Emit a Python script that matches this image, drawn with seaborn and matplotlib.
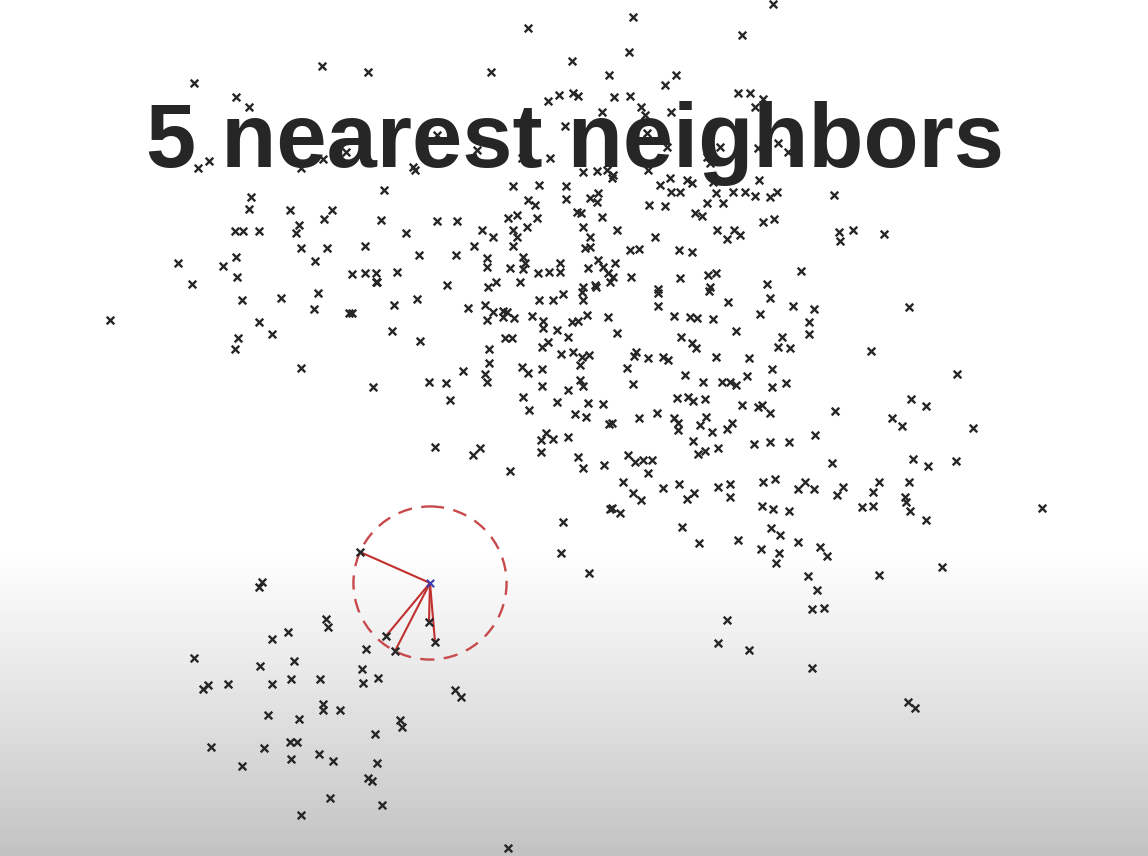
import matplotlib
matplotlib.use('Agg')
import matplotlib.pyplot as plt
import numpy as np
import pandas as pd
import seaborn as sns
from matplotlib.patches import Circle

# points, in pixel units (x right, y down)
upper_x = [322, 194, 236, 249, 198, 209, 251, 249, 290, 299, 296, 301, 324, 332, 235, 243, 259, 315, 327, 352,
           236, 223, 178, 237, 192, 301, 346, 323, 242, 281, 318, 314, 349, 110, 259, 272, 238, 235, 301,
           528, 572, 368, 491, 609, 614, 548, 559, 573, 578, 602, 565, 437, 477, 522, 550, 413, 415, 583, 597,
           607, 612, 384, 513, 539, 566, 566, 528, 535, 590, 598, 597, 577, 581, 602, 617, 381, 437, 457, 406,
           482, 493, 508, 517, 527, 537, 513, 517, 513, 583, 590, 585, 590, 365, 474, 419, 456, 487, 487, 523,
           525, 523, 510, 538, 549, 560, 560, 588, 598, 603, 608, 613, 610, 365, 376, 376, 397, 447, 496, 488,
           520, 583, 595,
           773, 633, 742, 629, 676, 665, 630, 738, 750, 763, 755, 641, 645, 671, 647, 667, 720, 758, 778, 788,
           707, 710, 648, 613, 670, 660, 687, 692, 671, 680, 713, 716, 733, 745, 755, 759, 770, 777, 649, 665,
           707, 723, 695, 702, 834, 763, 774, 655, 717, 727, 734, 740, 630, 639, 679, 692, 839, 853, 840, 615,
           631, 680, 708, 716, 767, 801, 710, 658,
           884, 909, 871, 957, 911, 926, 892, 902, 973, 913, 928, 956, 879, 873, 909, 905, 906, 910, 862, 873,
           926, 1042, 942,
           658, 658, 709, 728, 770, 793, 814, 809, 809, 760, 674, 690, 697, 713, 736, 617, 681, 692, 696, 782,
           778, 790, 636, 634, 648, 663, 668, 716, 749, 627, 772, 685, 747, 633, 703, 722, 730, 736, 772, 786,
           677, 688, 693, 705, 742, 758, 762, 770, 835, 612, 639, 657, 674, 678, 678, 700, 706, 712, 727, 732,
           693, 698, 705, 718, 754, 770, 789, 815, 832, 628, 635, 643, 652, 648, 623, 633, 641, 663, 679, 687,
           694, 718, 730, 730, 763, 775, 798, 805, 814, 837, 843, 612, 620, 762, 773, 789, 682, 699, 738, 771,
           780, 798, 761, 779, 776, 820, 827,
           377, 417, 394, 352, 468, 485, 493, 503, 487, 503, 514, 507, 532, 539, 553, 563, 582, 583, 596, 543,
           543, 557, 572, 578, 587, 608, 392, 420, 505, 512, 568, 542, 548, 489, 489, 561, 573, 582, 589, 580,
           463, 485, 487, 522, 528, 542, 429, 446, 373, 542, 568, 580, 583, 450, 523, 529, 557, 588, 575, 586,
           603, 609, 546, 541, 553, 568, 541, 435, 480, 473, 510, 578, 583, 604, 610, 563, 561,
           589, 808, 817, 812, 824, 879, 727, 718, 749, 812, 908, 915]
upper_y = [66, 83, 97, 107, 168, 161, 197, 209, 210, 225, 233, 248, 219, 210, 231, 231, 231, 261, 248, 274,
           257, 266, 263, 277, 284, 168, 152, 159, 300, 298, 293, 309, 313, 320, 322, 334, 338, 349, 368,
           28, 61, 72, 72, 75, 97, 101, 95, 93, 96, 112, 126, 135, 150, 158, 158, 167, 170, 172, 171,
           170, 178, 190, 186, 185, 186, 199, 200, 205, 198, 193, 202, 212, 213, 217, 230, 220, 221, 221, 233,
           230, 237, 218, 215, 227, 218, 230, 237, 246, 227, 237, 248, 247, 246, 246, 255, 255, 258, 267, 257,
           263, 269, 268, 273, 272, 263, 272, 268, 260, 267, 273, 277, 282, 273, 273, 282, 272, 285, 282, 287,
           282, 287, 285,
           4, 17, 35, 52, 75, 85, 96, 93, 93, 99, 107, 107, 115, 112, 133, 147, 147, 148, 143, 152,
           157, 163, 170, 175, 178, 185, 180, 183, 192, 192, 182, 193, 192, 192, 196, 180, 197, 192, 205, 206,
           203, 203, 213, 216, 195, 222, 219, 237, 230, 239, 230, 235, 250, 249, 250, 252, 232, 230, 241, 263,
           277, 278, 275, 273, 284, 271, 287, 289,
           234, 307, 351, 374, 399, 406, 418, 426, 428, 459, 466, 461, 482, 492, 482, 497, 502, 511, 507, 506,
           520, 508, 567,
           293, 306, 291, 302, 298, 306, 309, 322, 334, 314, 316, 317, 318, 319, 331, 333, 337, 343, 348, 337,
           347, 348, 352, 356, 358, 357, 360, 357, 358, 368, 369, 375, 376, 384, 382, 382, 382, 385, 387, 383,
           398, 397, 401, 399, 405, 407, 405, 413, 411, 423, 418, 413, 418, 423, 430, 425, 417, 432, 429, 423,
           441, 454, 451, 448, 444, 442, 442, 435, 463, 455, 462, 460, 460, 473, 482, 493, 500, 488, 484, 499,
           493, 487, 484, 497, 482, 479, 489, 482, 489, 495, 487, 508, 513, 506, 509, 511, 527, 543, 540, 528,
           535, 542, 549, 553, 563, 547, 556,
           282, 299, 305, 313, 308, 305, 312, 311, 320, 317, 318, 312, 316, 300, 300, 294, 292, 300, 287, 321,
           328, 330, 322, 321, 315, 317, 331, 341, 338, 338, 337, 347, 342, 349, 363, 354, 352, 357, 355, 365,
           371, 374, 382, 367, 373, 369, 382, 383, 387, 386, 390, 380, 386, 400, 397, 410, 402, 403, 414, 417,
           404, 424, 433, 440, 439, 437, 452, 447, 448, 455, 471, 457, 468, 465, 509, 522, 553,
           573, 576, 590, 609, 608, 575, 620, 643, 650, 668, 702, 708]

lower_x = [262, 259, 326, 328, 288, 272, 194, 260, 294, 366, 362, 363, 378, 208, 203, 228, 272, 291, 320, 323,
           323, 340, 268, 299, 375, 211, 264, 290, 297, 291, 319, 333, 242, 368, 372, 377, 330, 301, 455, 461,
           400, 402, 382, 508]
lower_y = [582, 587, 619, 627, 632, 639, 658, 666, 661, 649, 669, 683, 678, 685, 689, 684, 684, 679, 679, 704,
           710, 710, 715, 719, 734, 747, 748, 742, 742, 759, 754, 761, 766, 778, 781, 763, 798, 815, 690, 697,
           720, 727, 805, 848]

# query point and its 5 nearest neighbours
query_x = [430]
query_y = [583]
nbr_x = [360, 429, 435, 386, 395]
nbr_y = [552, 622, 642, 636, 651]

title = "5 nearest neighbors"

W, H = 1148, 856

pts = pd.DataFrame({
    'x': upper_x + lower_x + nbr_x,
    'y': upper_y + lower_y + nbr_y,
})

sns.set_theme(style="white")
plt.rcParams['font.family'] = ['Liberation Sans', 'DejaVu Sans']

fig = plt.figure(figsize=(W / 100, H / 100), dpi=100)
ax = fig.add_axes([0, 0, 1, 1])

# slide background: white, fading to grey at the bottom
rows = np.arange(H)
shade = 1 - 0.24 * np.clip((rows - 545) / (H - 545), 0, 1) ** 1.1
ax.imshow(np.repeat(shade[:, None], 2, axis=1), cmap='gray', vmin=0, vmax=1,
          extent=[0, W, H, 0], aspect='auto', zorder=0)

sns.scatterplot(data=pts, x='x', y='y', marker='x', s=30, linewidth=1.7,
                color='#262626', ax=ax, zorder=3, legend=False)

# lines to the neighbours
for nx_, ny_ in zip(nbr_x, nbr_y):
    ax.plot([query_x[0], nx_], [query_y[0], ny_], color='#c0302f', lw=1.5, zorder=2)

# radius = distance to farthest neighbour
d = np.hypot(np.array(nbr_x) - query_x[0], np.array(nbr_y) - query_y[0])
circ = Circle((query_x[0], query_y[0]), d.max(), fill=False, edgecolor='#c84a4c',
              lw=1.7, linestyle=(0, (6, 4)), zorder=2)
ax.add_patch(circ)

sns.scatterplot(x=query_x, y=query_y, marker='x', s=28, linewidth=1.5,
                color='#3b3bb0', ax=ax, zorder=4, legend=False)

ax.text(575, 167, title, ha='center', va='baseline', fontsize=65,
        fontweight='bold', color='#262626', zorder=5)

ax.set_xlim(0, W)
ax.set_ylim(H, 0)
ax.set_axis_off()

plt.savefig('out.png', dpi=100)
